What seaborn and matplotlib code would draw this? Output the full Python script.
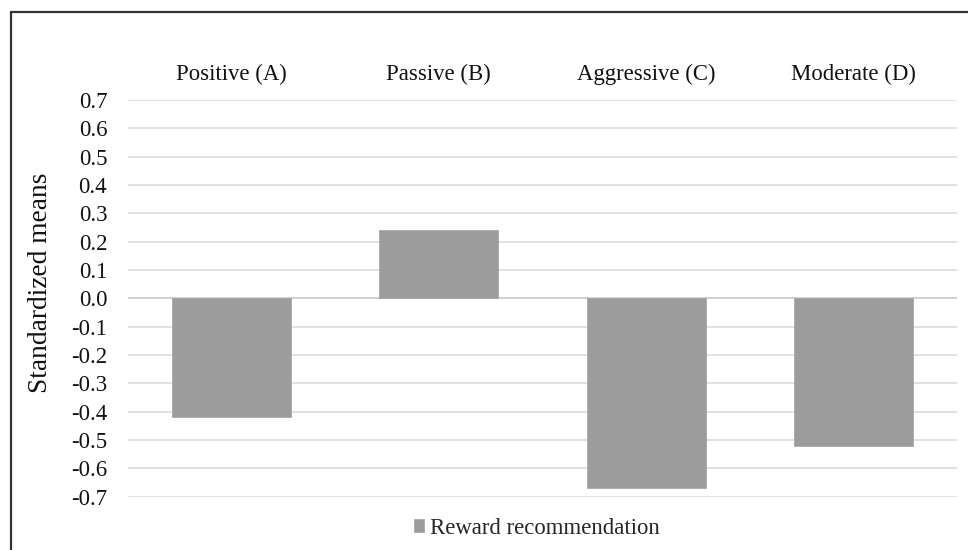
import matplotlib
matplotlib.use("Agg")
import matplotlib.pyplot as plt
from matplotlib.patches import Rectangle
import seaborn as sns
import pandas as pd

categories = ["Positive (A)", "Passive (B)", "Aggressive (C)", "Moderate (D)"]
means = [-0.42, 0.24, -0.67, -0.52]
series_name = "Reward recommendation"
y_ticks = [-0.7, -0.6, -0.5, -0.4, -0.3, -0.2, -0.1, 0.0, 0.1, 0.2, 0.3, 0.4, 0.5, 0.6, 0.7]

sns.set_theme(style="white")
plt.rcParams["font.family"] = ["Liberation Serif", "DejaVu Serif"]

df = pd.DataFrame({"category": categories, "mean": means})

fig = plt.figure(figsize=(9.68, 5.5), dpi=100)
ax = fig.add_axes([128 / 968, 1 - 496.7 / 550, (957 - 128) / 968, (496.7 - 100) / 550])

sns.barplot(data=df, x="category", y="mean", color="#9c9c9c", saturation=1,
            width=0.575, label=series_name, ax=ax, zorder=3,
            edgecolor="#a8a8a8", linewidth=0.6)

ax.set_ylim(-0.7, 0.7)
ax.set_xlim(-0.5, len(categories) - 0.5)
ax.set_yticks(y_ticks)
ax.set_yticklabels([f"{t:.1f}" for t in y_ticks])
ax.yaxis.grid(True, color="#dcdcdc", linewidth=1.2, zorder=0)
ax.set_axisbelow(True)
ax.axhline(0, color="#d0d0d0", linewidth=1.2, zorder=2)

ax.xaxis.tick_top()
ax.tick_params(axis="x", length=0, pad=11, labelsize=16.4, colors="#111111")
ax.tick_params(axis="y", length=0, pad=15, labelsize=16.4, colors="#111111")
ax.set_xlabel("")
ax.set_ylabel("Standardized means", fontsize=19.7, color="#111111")
ax.yaxis.set_label_coords(-0.0905, 0.539)

for side in ax.spines.values():
    side.set_visible(False)

leg = ax.legend(loc="center", bbox_to_anchor=(537 / 968, 1 - 528 / 550), bbox_transform=fig.transFigure,
                frameon=False, fontsize=16.4, handlelength=0.45, handleheight=0.5,
                handletextpad=0.25)

# outer frame around the chart area
fig.patches.append(Rectangle((10.5 / 968, -0.05), 1.2, 1.05 - 11.5 / 550,
                             transform=fig.transFigure, fill=False,
                             edgecolor="#333333", linewidth=1.6))

fig.savefig("out.png", dpi=100, facecolor="white")
